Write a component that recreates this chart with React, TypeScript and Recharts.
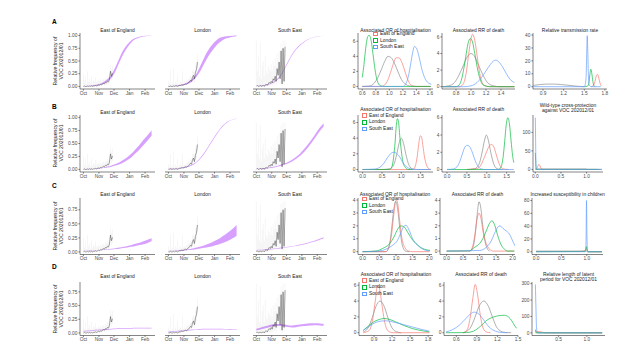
import React from 'react';
import { ComposedChart, Line, Area, XAxis, YAxis } from 'recharts';

// ---------------- data ----------------
const REGIONS = ['East of England', 'London', 'South East'];
const MONTH_TICKS = [0, 31, 61, 92, 123];
const MONTH_LABELS = ['Oct', 'Nov', 'Dec', 'Jan', 'Feb'];
const FIT_DAYS = [0, 8, 16, 24, 32, 40, 48, 56, 64, 72, 80, 88, 96, 104, 112, 120, 128, 136];
const OBS_DAYS = [0, 2, 4, 6, 8, 10, 12, 14, 16, 18, 20, 22, 24, 26, 28, 30, 32, 34, 36, 38, 40, 42, 44, 46, 48, 50, 52, 54, 56, 58];

const OBS_EOE = [0, 0.01, 0, 0, 0.01, 0, 0.01, 0, 0.01, 0, 0.01, 0.01, 0.02, 0.01, 0.02, 0.03, 0.02, 0.04, 0.03, 0.05, 0.06, 0.05, 0.08, 0.07, 0.1, 0.09, 0.14, 0.3, 0.2, 0.26];
const CI_LO_EOE = [0, 0, 0, 0, 0, 0, 0, 0, 0, 0, 0, 0, 0, 0, 0, 0.01, 0.01, 0.02, 0.01, 0.02, 0.03, 0.02, 0.04, 0.03, 0.05, 0.04, 0.07, 0.2, 0.12, 0.16];
const CI_HI_EOE = [0.25, 0.08, 0.2, 0.05, 0.3, 0.1, 0.15, 0.06, 0.2, 0.08, 0.12, 0.1, 0.18, 0.09, 0.1, 0.12, 0.1, 0.14, 0.1, 0.13, 0.15, 0.12, 0.17, 0.15, 0.2, 0.18, 0.26, 0.42, 0.34, 0.4];
const OBS_LON = [0, 0, 0.01, 0, 0, 0.01, 0, 0.01, 0.01, 0, 0.01, 0.02, 0.02, 0.03, 0.03, 0.03, 0.04, 0.05, 0.04, 0.06, 0.07, 0.09, 0.12, 0.1, 0.18, 0.22, 0.15, 0.28, 0.33, 0.48];
const CI_LO_LON = [0, 0, 0, 0, 0, 0, 0, 0, 0, 0, 0, 0, 0.01, 0.01, 0.01, 0.01, 0.02, 0.03, 0.02, 0.03, 0.04, 0.05, 0.07, 0.06, 0.1, 0.14, 0.08, 0.18, 0.22, 0.36];
const CI_HI_LON = [0.1, 0.05, 0.3, 0.04, 0.08, 0.35, 0.05, 0.1, 0.06, 0.2, 0.05, 0.08, 0.1, 0.07, 0.3, 0.08, 0.1, 0.09, 0.12, 0.13, 0.15, 0.16, 0.2, 0.18, 0.3, 0.32, 0.28, 0.42, 0.48, 0.62];
const OBS_SE = [0, 0.02, 0, 0, 0.02, 0, 0.01, 0.02, 0, 0.03, 0.04, 0.02, 0.05, 0.08, 0.06, 0.1, 0.07, 0.15, 0.12, 0.2, 0.1, 0.35, 0.22, 0.48, 0.15, 0.7, 0.05, 0.75, 0.1, 0.78];
const CI_LO_SE = [0, 0, 0, 0, 0, 0, 0, 0, 0, 0, 0, 0, 0, 0.01, 0, 0.02, 0.01, 0.04, 0.03, 0.06, 0.02, 0.15, 0.08, 0.25, 0.04, 0.45, 0, 0.5, 0.02, 0.55];
const CI_HI_SE = [0.9, 0.3, 0.6, 0.2, 0.85, 0.15, 0.4, 0.5, 0.2, 0.6, 0.3, 0.25, 0.4, 0.35, 0.3, 0.45, 0.3, 0.5, 0.4, 0.55, 0.4, 0.65, 0.5, 0.7, 0.45, 0.85, 0.3, 0.9, 0.4, 0.9];

// fitted ribbons (lower / upper) on FIT_DAYS
const A_EOE_LO = [0.003, 0.005, 0.009, 0.016, 0.03, 0.055, 0.1, 0.17, 0.3, 0.48, 0.64, 0.77, 0.87, 0.93, 0.962, 0.98, 0.99, 0.995];
const A_EOE_HI = [0.007, 0.011, 0.018, 0.03, 0.05, 0.085, 0.14, 0.23, 0.38, 0.56, 0.72, 0.83, 0.91, 0.95, 0.976, 0.99, 0.996, 0.999];
const A_LON_LO = [0.003, 0.005, 0.009, 0.015, 0.03, 0.058, 0.105, 0.19, 0.31, 0.46, 0.6, 0.71, 0.81, 0.88, 0.93, 0.958, 0.975, 0.985];
const A_LON_HI = [0.007, 0.011, 0.017, 0.029, 0.05, 0.09, 0.15, 0.25, 0.41, 0.58, 0.72, 0.83, 0.91, 0.96, 0.98, 0.99, 0.997, 0.999];
const A_SE_LO = [0.007, 0.011, 0.019, 0.033, 0.061, 0.109, 0.188, 0.316, 0.466, 0.607, 0.72, 0.802, 0.864, 0.915, 0.951, 0.972, 0.985, 0.991];
const A_SE_HI = [0.013, 0.019, 0.031, 0.047, 0.079, 0.131, 0.212, 0.344, 0.494, 0.633, 0.74, 0.818, 0.876, 0.925, 0.959, 0.978, 0.989, 0.995];

const B_EOE_LO = [0.003, 0.005, 0.007, 0.011, 0.017, 0.025, 0.036, 0.053, 0.075, 0.1, 0.135, 0.18, 0.235, 0.31, 0.385, 0.47, 0.56, 0.65];
const B_EOE_HI = [0.007, 0.009, 0.013, 0.019, 0.027, 0.039, 0.054, 0.077, 0.105, 0.14, 0.185, 0.24, 0.305, 0.39, 0.475, 0.57, 0.66, 0.75];
const B_LON_LO = [0.007, 0.01, 0.014, 0.022, 0.034, 0.053, 0.082, 0.131, 0.21, 0.309, 0.428, 0.548, 0.669, 0.781, 0.863, 0.925, 0.956, 0.977];
const B_LON_HI = [0.013, 0.016, 0.022, 0.032, 0.046, 0.067, 0.098, 0.149, 0.23, 0.331, 0.452, 0.572, 0.691, 0.799, 0.877, 0.935, 0.964, 0.983];
const B_SE_LO = [0.007, 0.01, 0.015, 0.022, 0.033, 0.047, 0.065, 0.088, 0.116, 0.153, 0.2, 0.257, 0.333, 0.42, 0.518, 0.627, 0.737, 0.828];
const B_SE_HI = [0.013, 0.018, 0.025, 0.034, 0.047, 0.063, 0.085, 0.112, 0.144, 0.187, 0.24, 0.303, 0.387, 0.48, 0.582, 0.693, 0.803, 0.892];

const C_EOE_LO = [0.018, 0.02, 0.022, 0.025, 0.028, 0.032, 0.037, 0.043, 0.05, 0.058, 0.068, 0.079, 0.092, 0.106, 0.121, 0.138, 0.16, 0.188];
const C_EOE_HI = [0.022, 0.024, 0.028, 0.031, 0.036, 0.042, 0.049, 0.057, 0.066, 0.078, 0.092, 0.107, 0.124, 0.144, 0.165, 0.188, 0.215, 0.245];
const C_LON_LO = [0.013, 0.015, 0.018, 0.022, 0.027, 0.033, 0.04, 0.049, 0.06, 0.072, 0.086, 0.103, 0.123, 0.146, 0.173, 0.204, 0.242, 0.29];
const C_LON_HI = [0.017, 0.021, 0.026, 0.032, 0.039, 0.049, 0.062, 0.077, 0.096, 0.118, 0.144, 0.175, 0.211, 0.253, 0.3, 0.354, 0.414, 0.48];
const C_SE_LO = [0.025, 0.029, 0.034, 0.04, 0.047, 0.055, 0.063, 0.072, 0.082, 0.093, 0.104, 0.118, 0.134, 0.151, 0.171, 0.192, 0.217, 0.244];
const C_SE_HI = [0.035, 0.039, 0.044, 0.05, 0.057, 0.065, 0.073, 0.082, 0.092, 0.103, 0.116, 0.13, 0.146, 0.165, 0.185, 0.208, 0.233, 0.26];

const D_EOE_LO = [0.028, 0.033, 0.038, 0.043, 0.048, 0.053, 0.058, 0.063, 0.067, 0.071, 0.074, 0.077, 0.079, 0.081, 0.082, 0.083, 0.083, 0.083];
const D_EOE_HI = [0.042, 0.047, 0.052, 0.057, 0.062, 0.067, 0.072, 0.077, 0.081, 0.085, 0.088, 0.091, 0.093, 0.095, 0.096, 0.097, 0.097, 0.097];
const D_LON_LO = [0.015, 0.02, 0.025, 0.031, 0.039, 0.046, 0.052, 0.057, 0.061, 0.063, 0.064, 0.064, 0.064, 0.063, 0.062, 0.06, 0.058, 0.056];
const D_LON_HI = [0.025, 0.03, 0.035, 0.043, 0.051, 0.058, 0.064, 0.069, 0.073, 0.075, 0.076, 0.076, 0.076, 0.075, 0.074, 0.072, 0.07, 0.068];
const D_SE_LO = [0.045, 0.064, 0.083, 0.102, 0.117, 0.127, 0.127, 0.117, 0.107, 0.102, 0.106, 0.116, 0.126, 0.133, 0.138, 0.139, 0.136, 0.131];
const D_SE_HI = [0.075, 0.096, 0.117, 0.138, 0.153, 0.163, 0.163, 0.153, 0.143, 0.138, 0.144, 0.154, 0.164, 0.171, 0.176, 0.177, 0.174, 0.169];

type Pt = [number, number];
// posterior densities: [value, density]
const A_OR_GREY: Pt[] = [[0.6, 0], [0.7, 0.05], [0.76, 0.3], [0.82, 1.0], [0.88, 2.2], [0.93, 3.3], [0.98, 4.0], [1.03, 3.8], [1.08, 3.0], [1.13, 1.9], [1.18, 0.9], [1.24, 0.3], [1.3, 0.05], [1.4, 0], [1.61, 0]];
const A_OR_RED: Pt[] = [[0.6, 0], [0.88, 0], [0.93, 0.2], [0.98, 0.9], [1.03, 2.2], [1.07, 3.3], [1.1, 3.8], [1.14, 3.8], [1.18, 3.3], [1.22, 2.3], [1.26, 1.2], [1.3, 0.4], [1.34, 0.1], [1.4, 0], [1.61, 0]];
const A_OR_GREEN: Pt[] = [[0.6, 1.2], [0.62, 2.5], [0.64, 4.2], [0.66, 5.7], [0.68, 6.6], [0.7, 6.8], [0.72, 6.5], [0.74, 5.6], [0.76, 4.2], [0.78, 2.8], [0.8, 1.6], [0.82, 0.8], [0.84, 0.35], [0.87, 0.1], [0.92, 0], [1.61, 0]];
const A_OR_BLUE: Pt[] = [[0.6, 0], [1.2, 0], [1.24, 0.3], [1.28, 1.3], [1.31, 2.7], [1.34, 4.3], [1.37, 5.3], [1.4, 5.1], [1.44, 3.9], [1.48, 2.3], [1.52, 1.2], [1.56, 0.6], [1.6, 0.35], [1.62, 0.3]];

const A_RR_GREY: Pt[] = [[0.62, 0], [0.7, 0.1], [0.78, 0.5], [0.84, 1.4], [0.9, 2.6], [0.95, 3.6], [1.0, 4.0], [1.05, 3.6], [1.1, 2.6], [1.16, 1.4], [1.22, 0.5], [1.3, 0.1], [1.38, 0], [1.58, 0]];
const A_RR_RED: Pt[] = [[0.62, 0], [0.85, 0], [0.9, 0.4], [0.94, 1.9], [0.97, 4.0], [1.0, 5.8], [1.02, 6.3], [1.05, 5.6], [1.08, 3.8], [1.11, 1.9], [1.14, 0.7], [1.18, 0.15], [1.25, 0], [1.58, 0]];
const A_RR_GREEN: Pt[] = [[0.62, 0], [0.8, 0], [0.85, 0.3], [0.89, 1.5], [0.93, 3.6], [0.96, 5.2], [0.99, 5.8], [1.02, 5.4], [1.05, 4.0], [1.09, 2.0], [1.13, 0.7], [1.17, 0.15], [1.25, 0], [1.58, 0]];
const A_RR_BLUE: Pt[] = [[0.62, 0], [0.9, 0], [1.0, 0.1], [1.08, 0.5], [1.14, 1.1], [1.2, 1.9], [1.26, 2.7], [1.3, 3.1], [1.33, 3.2], [1.37, 3.0], [1.42, 2.4], [1.47, 1.6], [1.52, 0.9], [1.58, 0.5]];

const A_TR_GREY: Pt[] = [[0.76, 1.0], [0.85, 1.6], [0.95, 2.0], [1.05, 2.0], [1.15, 1.7], [1.25, 1.2], [1.35, 0.6], [1.45, 0.15], [1.5, 0]];
const A_TR_RED: Pt[] = [[1.6, 0], [1.63, 0.8], [1.655, 4], [1.675, 8.5], [1.69, 9.5], [1.705, 8], [1.72, 4.5], [1.735, 1.8], [1.75, 0.6]];
const A_TR_GREEN: Pt[] = [[1.5, 0], [1.55, 0.5], [1.57, 4], [1.585, 11], [1.595, 13.5], [1.61, 10], [1.625, 4], [1.64, 0.8], [1.66, 0]];
const A_TR_BLUE: Pt[] = [[0.76, 0], [1.5, 0], [1.525, 6], [1.535, 25], [1.543, 39.5], [1.552, 25], [1.562, 6], [1.575, 1], [1.6, 0], [1.74, 0]];

const B_OR_GREY: Pt[] = [[0, 0], [0.5, 0], [0.7, 0.1], [0.8, 0.55], [0.88, 1.9], [0.94, 3.3], [1.0, 4.0], [1.06, 3.3], [1.12, 1.9], [1.2, 0.55], [1.3, 0.05], [1.4, 0], [1.76, 0]];
const B_OR_RED: Pt[] = [[0, 0], [1.3, 0], [1.36, 0.4], [1.41, 1.6], [1.45, 3.2], [1.49, 4.3], [1.52, 4.2], [1.56, 3.0], [1.6, 1.6], [1.65, 0.6], [1.7, 0.15], [1.76, 0]];
const B_OR_GREEN: Pt[] = [[0, 0], [0.7, 0], [0.76, 0.4], [0.8, 1.5], [0.84, 3.5], [0.87, 5.6], [0.9, 6.5], [0.93, 6.0], [0.96, 4.3], [1.0, 2.4], [1.04, 1.0], [1.1, 0.3], [1.18, 0], [1.3, 0]];
const B_OR_BLUE: Pt[] = [[0, 0], [0.3, 0.05], [0.45, 0.3], [0.55, 0.8], [0.64, 1.5], [0.72, 2.0], [0.8, 2.2], [0.88, 2.05], [0.96, 1.6], [1.04, 0.9], [1.12, 0.4], [1.2, 0.15], [1.3, 0.03], [1.4, 0], [1.76, 0]];

const B_RR_GREY: Pt[] = [[0.5, 0], [0.7, 0.1], [0.8, 0.55], [0.88, 1.9], [0.94, 3.3], [0.99, 4.0], [1.04, 3.4], [1.1, 2.0], [1.18, 0.6], [1.28, 0.05], [1.4, 0]];
const B_RR_RED: Pt[] = [[0.5, 0], [0.75, 0.1], [0.85, 0.5], [0.93, 1.3], [1.0, 2.1], [1.06, 2.7], [1.12, 2.9], [1.18, 2.6], [1.24, 1.7], [1.3, 0.8], [1.36, 0.25], [1.44, 0.05], [1.55, 0]];
const B_RR_GREEN: Pt[] = [[0, 0], [1.3, 0], [1.36, 0.3], [1.41, 1.4], [1.45, 3.2], [1.49, 5.2], [1.53, 6.0], [1.57, 5.3], [1.61, 3.4], [1.65, 1.6], [1.68, 0.8]];
const B_RR_BLUE: Pt[] = [[0, 0], [0.15, 0.05], [0.25, 0.3], [0.32, 0.9], [0.38, 1.7], [0.44, 2.5], [0.5, 2.8], [0.56, 2.7], [0.62, 2.2], [0.68, 1.4], [0.74, 0.7], [0.8, 0.25], [0.88, 0.05], [0.95, 0], [1.68, 0]];

const B_WT_GREY: Pt[] = [[0, 1], [0.995, 1], [1.005, 0], [1.3, 0]];
const B_WT_RED: Pt[] = [[0, 0], [0.03, 2], [0.05, 9], [0.07, 14], [0.09, 10], [0.11, 3], [0.13, 0.5], [0.16, 0], [1.2, 0]];
const B_WT_GREEN: Pt[] = [[0, 45], [0.006, 25], [0.012, 5], [0.02, 0], [1.25, 0]];
const B_WT_BLUE: Pt[] = [[0, 140], [0.006, 80], [0.012, 20], [0.02, 3], [0.03, 0], [1.3, 0]];

const C_OR_GREY: Pt[] = [[0, 0], [0.7, 0], [0.8, 0.5], [0.87, 1.8], [0.93, 3.2], [0.99, 3.9], [1.05, 3.3], [1.11, 1.9], [1.19, 0.5], [1.28, 0.05], [1.4, 0]];
const C_OR_RED: Pt[] = [[0, 0], [0.7, 0], [0.78, 0.3], [0.86, 1.2], [0.93, 2.8], [0.98, 3.8], [1.02, 4.0], [1.06, 3.6], [1.11, 2.4], [1.18, 1.0], [1.27, 0.3], [1.37, 0.05], [1.5, 0], [2.0, 0]];
const C_OR_GREEN: Pt[] = [[0, 0], [0.4, 0.05], [0.6, 0.25], [0.8, 0.6], [0.95, 1.2], [1.05, 1.75], [1.15, 2.0], [1.25, 1.9], [1.35, 1.5], [1.5, 0.9], [1.7, 0.4], [1.9, 0.15], [2.02, 0.1]];
const C_OR_BLUE: Pt[] = [[0, 0], [0.5, 0.05], [0.7, 0.2], [0.9, 0.5], [1.05, 0.9], [1.15, 1.5], [1.23, 1.95], [1.3, 2.05], [1.38, 1.75], [1.5, 1.0], [1.65, 0.5], [1.8, 0.2], [2.02, 0.05]];

const C_RR_GREY: Pt[] = [[0.7, 0], [0.8, 0.3], [0.87, 1.4], [0.93, 3.0], [0.98, 3.9], [1.03, 3.5], [1.09, 2.1], [1.16, 0.8], [1.24, 0.15], [1.3, 0]];
const C_RR_RED: Pt[] = [[0, 0], [0.7, 0], [0.78, 0.3], [0.85, 1.2], [0.92, 2.5], [0.98, 3.0], [1.04, 2.6], [1.1, 1.6], [1.2, 0.6], [1.3, 0.15], [1.4, 0], [2.05, 0]];
const C_RR_GREEN: Pt[] = [[0, 0], [0.7, 0.02], [0.85, 0.3], [1.0, 0.6], [1.1, 1.0], [1.2, 1.6], [1.3, 2.2], [1.37, 2.4], [1.45, 2.1], [1.55, 1.2], [1.65, 0.5], [1.75, 0.15], [1.85, 0], [2.05, 0]];
const C_RR_BLUE: Pt[] = [[0, 0], [1.0, 0.05], [1.2, 0.3], [1.35, 0.8], [1.45, 1.4], [1.55, 1.9], [1.62, 2.0], [1.7, 1.8], [1.8, 1.6], [1.9, 1.35], [2.0, 0.8], [2.07, 0.4]];

const C_SC_GREY: Pt[] = [[0, 1], [0.99, 1], [1.01, 0], [1.3, 0]];
const C_SC_RED: Pt[] = [[0, 0.3], [0.9, 0.5], [0.95, 1.5], [0.98, 3.5], [1.0, 4], [1.02, 1], [1.04, 0], [1.3, 0]];
const C_SC_GREEN: Pt[] = [[0, 0], [0.96, 0.5], [0.985, 5], [0.995, 8], [1.005, 3], [1.02, 0], [1.3, 0]];
const C_SC_BLUE: Pt[] = [[0, 0], [0.97, 0], [0.985, 15], [0.995, 80], [1.003, 30], [1.012, 3], [1.025, 0], [1.3, 0]];

const D_OR_GREY: Pt[] = [[0.72, 0.1], [0.8, 0.6], [0.87, 1.9], [0.93, 3.3], [1.0, 4.0], [1.07, 3.3], [1.13, 1.9], [1.2, 0.6], [1.28, 0.1], [1.35, 0]];
const D_OR_RED: Pt[] = [[0.72, 0], [0.82, 0.3], [0.88, 1.8], [0.92, 4.0], [0.96, 6.0], [0.99, 5.6], [1.03, 3.6], [1.07, 1.6], [1.11, 0.5], [1.16, 0.1], [1.22, 0], [1.82, 0]];
const D_OR_GREEN: Pt[] = [[0.72, 0.3], [0.8, 0.8], [0.9, 1.4], [1.0, 1.7], [1.06, 1.8], [1.15, 1.7], [1.25, 1.4], [1.4, 0.9], [1.55, 0.5], [1.7, 0.25], [1.82, 0.1]];
const D_OR_BLUE: Pt[] = [[0.72, 0.3], [0.8, 0.7], [0.9, 1.2], [1.0, 1.45], [1.1, 1.5], [1.25, 1.3], [1.4, 1.0], [1.55, 0.7], [1.7, 0.4], [1.82, 0.2]];

const D_RR_GREY: Pt[] = [[0.7, 0], [0.8, 0.55], [0.87, 1.9], [0.93, 3.3], [1.0, 4.0], [1.07, 3.3], [1.13, 1.9], [1.2, 0.55], [1.3, 0.05], [1.4, 0]];
const D_RR_RED: Pt[] = [[0.7, 0], [0.76, 0.4], [0.8, 1.8], [0.84, 4.3], [0.875, 6.1], [0.91, 4.8], [0.95, 2.2], [0.99, 0.6], [1.04, 0.08], [1.1, 0]];
const D_RR_GREEN: Pt[] = [[0.45, 0], [0.75, 0.02], [0.85, 0.2], [0.95, 0.8], [1.05, 1.6], [1.15, 2.0], [1.22, 2.15], [1.3, 2.2], [1.36, 2.0], [1.41, 1.5], [1.45, 0.9], [1.48, 0.55]];
const D_RR_BLUE: Pt[] = [[0.45, 0.1], [0.55, 0.4], [0.65, 1.0], [0.74, 1.8], [0.81, 2.4], [0.86, 2.6], [0.93, 2.35], [1.0, 1.6], [1.08, 0.7], [1.17, 0.2], [1.27, 0.02], [1.35, 0]];

const D_LP_GREY: Pt[] = [[0.09, 1], [1.27, 1]];
const D_LP_RED: Pt[] = [[0.09, 10], [0.13, 8], [0.18, 7], [0.22, 3], [0.26, 0.5], [0.3, 0], [1.27, 0]];
const D_LP_GREEN: Pt[] = [[0.09, 20], [0.1, 5], [0.115, 0], [1.27, 0]];
const D_LP_BLUE: Pt[] = [[0.09, 295], [0.1, 150], [0.11, 30], [0.125, 3], [0.14, 0], [1.27, 0]];

// ---------------- styling / layout ----------------
const FONT = '"Liberation Sans", Arial, Helvetica, sans-serif';
const RED = '#F8766D';
const GREEN = '#00BA38';
const BLUE = '#619CFF';
const GREY = '#8a8a8a';
const PURPLE = '#C77CFF';
const AXIS = '#333333';
const TICKTXT = '#4d4d4d';
const YW = 20; // y-axis width
const XH = 10; // x-axis height
const PT = 4; // top pad
const PR = 8; // right pad

const LEFT_X: [number, number][] = [[80, 155], [165, 240], [253, 327]];

const toXY = (pts: Pt[]) => pts.map(([x, y]) => ({ x, y }));
const ribbon = (lo: number[], hi: number[]) => FIT_DAYS.map((d, i) => ({ x: d, r: [lo[i], hi[i]] }));
const obsLine = (v: number[]) => OBS_DAYS.map((d, i) => ({ x: d, y: v[i] }));
const ciSegs = (lo: number[], hi: number[]) => {
  const out: { x: number; y: number | null }[] = [];
  OBS_DAYS.forEach((d, i) => {
    out.push({ x: d, y: lo[i] });
    out.push({ x: d, y: hi[i] });
    out.push({ x: d, y: null });
  });
  return out;
};

const OBS = [
  { obs: OBS_EOE, lo: CI_LO_EOE, hi: CI_HI_EOE },
  { obs: OBS_LON, lo: CI_LO_LON, hi: CI_HI_LON },
  { obs: OBS_SE, lo: CI_LO_SE, hi: CI_HI_SE },
];

type Curves = { grey: Pt[]; red: Pt[]; green: Pt[]; blue: Pt[] };
type RightPanel = {
  x0: number; x1: number; xDomain: [number, number]; yDomain: [number, number];
  xTicks: number[]; yTicks: number[]; title: string[]; titleY: number; curves: Curves;
  legend?: { x: number; y: number };
};
type Row = {
  key: string; labelY: number; top: number; bottom: number; leftTitleY: number;
  yDomain: [number, number]; yTicks: number[]; rib: [number[], number[]][]; right: RightPanel[];
};

const ROWS: Row[] = [
  {
    key: 'A', labelY: 21.5, top: 33, bottom: 89, leftTitleY: 30,
    yDomain: [-0.05, 1.05], yTicks: [0, 0.25, 0.5, 0.75, 1],
    rib: [[A_EOE_LO, A_EOE_HI], [A_LON_LO, A_LON_HI], [A_SE_LO, A_SE_HI]],
    right: [
      { x0: 358, x1: 433, xDomain: [0.537, 1.645], yDomain: [-0.34, 7.1], xTicks: [0.6, 0.8, 1.0, 1.2, 1.4, 1.6], yTicks: [0, 2, 4, 6], title: ['Associated OR of hospitalisation'], titleY: 30, curves: { grey: A_OR_GREY, red: A_OR_RED, green: A_OR_GREEN, blue: A_OR_BLUE }, legend: { x: 373, y: 34 } },
      { x0: 442, x1: 515, xDomain: [0.613, 1.587], yDomain: [-0.28, 6.47], xTicks: [0.8, 1.0, 1.2, 1.4], yTicks: [0, 2, 4, 6], title: ['Associated RR of death'], titleY: 30, curves: { grey: A_RR_GREY, red: A_RR_RED, green: A_RR_GREEN, blue: A_RR_BLUE } },
      { x0: 533, x1: 607, xDomain: [0.755, 1.83], yDomain: [-1.8, 41.6], xTicks: [0.9, 1.2, 1.5, 1.8], yTicks: [0, 10, 20, 30, 40], title: ['Relative transmission rate'], titleY: 30, curves: { grey: A_TR_GREY, red: A_TR_RED, green: A_TR_GREEN, blue: A_TR_BLUE } },
    ],
  },
  {
    key: 'B', labelY: 106.5, top: 114.5, bottom: 171.5, leftTitleY: 112,
    yDomain: [-0.05, 1.05], yTicks: [0, 0.25, 0.5, 0.75, 1],
    rib: [[B_EOE_LO, B_EOE_HI], [B_LON_LO, B_LON_HI], [B_SE_LO, B_SE_HI]],
    right: [
      { x0: 358, x1: 433, xDomain: [-0.12, 1.82], yDomain: [-0.32, 6.96], xTicks: [0, 0.5, 1.0, 1.5], yTicks: [0, 2, 4, 6], title: ['Associated OR of hospitalisation'], titleY: 109, curves: { grey: B_OR_GREY, red: B_OR_RED, green: B_OR_GREEN, blue: B_OR_BLUE }, legend: { x: 362, y: 115.7 } },
      { x0: 442, x1: 515, xDomain: [-0.125, 1.71], yDomain: [-0.29, 6.32], xTicks: [0, 0.5, 1.0, 1.5], yTicks: [0, 2, 4, 6], title: ['Associated RR of death'], titleY: 109, curves: { grey: B_RR_GREY, red: B_RR_RED, green: B_RR_GREEN, blue: B_RR_BLUE } },
      { x0: 533, x1: 603, xDomain: [-0.045, 1.32], yDomain: [-7, 147], xTicks: [0, 0.5, 1.0], yTicks: [0, 50, 100], title: ['Wild-type cross-protection', 'against VOC 202012/01'], titleY: 108, curves: { grey: B_WT_GREY, red: B_WT_RED, green: B_WT_GREEN, blue: B_WT_BLUE } },
    ],
  },
  {
    key: 'C', labelY: 186, top: 198, bottom: 254.5, leftTitleY: 194,
    yDomain: [-0.046, 0.96], yTicks: [0, 0.25, 0.5, 0.75],
    rib: [[C_EOE_LO, C_EOE_HI], [C_LON_LO, C_LON_HI], [C_SE_LO, C_SE_HI]],
    right: [
      { x0: 358, x1: 432, xDomain: [-0.14, 2.08], yDomain: [-0.22, 4.16], xTicks: [0, 0.5, 1.0, 1.5, 2.0], yTicks: [0, 1, 2, 3, 4], title: ['Associated OR of hospitalisation'], titleY: 194, curves: { grey: C_OR_GREY, red: C_OR_RED, green: C_OR_GREEN, blue: C_OR_BLUE }, legend: { x: 362, y: 199 } },
      { x0: 440, x1: 515, xDomain: [-0.2, 2.07], yDomain: [-0.27, 4.2], xTicks: [0, 0.5, 1.0, 1.5, 2.0], yTicks: [0, 1, 2, 3, 4], title: ['Associated RR of death'], titleY: 194, curves: { grey: C_RR_GREY, red: C_RR_RED, green: C_RR_GREEN, blue: C_RR_BLUE } },
      { x0: 532, x1: 603, xDomain: [-0.08, 1.32], yDomain: [-4.3, 84], xTicks: [0, 0.5, 1.0], yTicks: [0, 20, 40, 60, 80], title: ['Increased susceptibility in children'], titleY: 194, curves: { grey: C_SC_GREY, red: C_SC_RED, green: C_SC_GREEN, blue: C_SC_BLUE } },
    ],
  },
  {
    key: 'D', labelY: 267, top: 282, bottom: 335.5, leftTitleY: 276,
    yDomain: [-0.046, 0.93], yTicks: [0, 0.25, 0.5, 0.75],
    rib: [[D_EOE_LO, D_EOE_HI], [D_LON_LO, D_LON_HI], [D_SE_LO, D_SE_HI]],
    right: [
      { x0: 359, x1: 433, xDomain: [0.65, 1.88], yDomain: [-0.35, 6.4], xTicks: [0.9, 1.2, 1.5, 1.8], yTicks: [0, 2, 4, 6], title: ['Associated OR of hospitalisation'], titleY: 274, curves: { grey: D_OR_GREY, red: D_OR_RED, green: D_OR_GREEN, blue: D_OR_BLUE }, legend: { x: 362, y: 280.7 } },
      { x0: 444, x1: 518, xDomain: [0.42, 1.5], yDomain: [-0.35, 6.4], xTicks: [0.6, 0.9, 1.2, 1.5], yTicks: [0, 2, 4, 6], title: ['Associated RR of death'], titleY: 274, curves: { grey: D_RR_GREY, red: D_RR_RED, green: D_RR_GREEN, blue: D_RR_BLUE } },
      { x0: 532, x1: 605, xDomain: [0.03, 1.32], yDomain: [-16, 310], xTicks: [0.5, 1.0], yTicks: [0, 100, 200, 300], title: ['Relative length of latent', 'period for VOC 202012/01'], titleY: 277, curves: { grey: D_LP_GREY, red: D_LP_RED, green: D_LP_GREEN, blue: D_LP_BLUE } },
    ],
  },
];

// ---------------- components ----------------
type FrameProps = {
  x0: number; x1: number; y0: number; y1: number;
  xDomain: [number, number]; yDomain: [number, number];
  xTicks: number[]; yTicks: number[];
  xFmt: (v: number) => string; yFmt: (v: number) => string;
  showY: boolean; children: React.ReactNode;
};

function Frame(p: FrameProps) {
  const w = p.x1 - p.x0 + YW + PR;
  const h = p.y1 - p.y0 + XH + PT;
  const axisLine = { stroke: AXIS, strokeWidth: 0.6 };
  return (
    <div style={{ position: 'absolute', left: p.x0 - YW, top: p.y0 - PT, width: w, height: h }}>
      <ComposedChart width={w} height={h} margin={{ top: PT, right: PR, bottom: 0, left: 0 }}>
        <XAxis
          type="number" dataKey="x" domain={p.xDomain} ticks={p.xTicks} tickFormatter={p.xFmt}
          allowDataOverflow interval={0} height={XH} tickSize={1.6} tickMargin={0.6}
          tick={{ fontSize: 4.8, fill: TICKTXT }} axisLine={axisLine} tickLine={axisLine}
        />
        <YAxis
          type="number" domain={p.yDomain} ticks={p.yTicks} tickFormatter={p.yFmt}
          allowDataOverflow interval={0} width={YW} tickSize={p.showY ? 1.6 : 0} tickMargin={1}
          tick={p.showY ? { fontSize: 4.8, fill: TICKTXT } : false}
          axisLine={p.showY ? axisLine : false} tickLine={p.showY ? axisLine : false}
        />
        {p.children}
      </ComposedChart>
    </div>
  );
}

function Title({ x0, x1, y, lines }: { x0: number; x1: number; y: number; lines: string[] }) {
  const lh = 5;
  return (
    <div style={{
      position: 'absolute', left: x0 - 20, width: x1 - x0 + 40, top: y - (lines.length * lh) / 2,
      textAlign: 'center', fontSize: 4.9, lineHeight: `${lh}px`, color: '#1a1a1a', whiteSpace: 'nowrap',
    }}>
      {lines.map((l) => <div key={l}>{l}</div>)}
    </div>
  );
}

function Legend({ x, y }: { x: number; y: number }) {
  const cols = [RED, GREEN, BLUE];
  return (
    <>
      {REGIONS.map((r, i) => (
        <div key={r} style={{ position: 'absolute', left: x, top: y + i * 6.6 - 3, height: 6, display: 'flex', alignItems: 'center' }}>
          <div style={{ width: 4.6, height: 4.6, border: `0.7px solid ${cols[i]}`, boxSizing: 'border-box', marginRight: 2.4, background: 'rgba(255,255,255,0.6)' }} />
          <span style={{ fontSize: 4.9, lineHeight: '6px', color: '#1a1a1a', whiteSpace: 'nowrap' }}>{r}</span>
        </div>
      ))}
    </>
  );
}

const monthFmt = (v: number) => MONTH_LABELS[MONTH_TICKS.indexOf(v)] ?? '';
const fmt2 = (v: number) => v.toFixed(2);
const fmt1 = (v: number) => v.toFixed(1);
const fmtInt = (v: number) => String(v);

function densityLines(c: Curves) {
  const list: [Pt[], string, string][] = [[c.grey, GREY, 'g'], [c.red, RED, 'r'], [c.green, GREEN, 'n'], [c.blue, BLUE, 'b']];
  return list.map(([pts, col, k]) => (
    <Line key={k} data={toXY(pts)} dataKey="y" type="monotone" stroke={col} strokeWidth={0.8}
      strokeOpacity={0.85} dot={false} activeDot={false} isAnimationActive={false} />
  ));
}

export default function App() {
  return (
    <div style={{ position: 'absolute', left: 0, top: 0, width: 640, height: 351, background: '#fff', fontFamily: FONT, overflow: 'hidden' }}>
      {ROWS.map((row) => (
        <React.Fragment key={row.key}>
          <div style={{ position: 'absolute', left: 52, top: row.labelY - 4, fontSize: 6.5, fontWeight: 'bold', lineHeight: '8px' }}>{row.key}</div>
          <div style={{
            position: 'absolute', left: 58 - 40, top: (row.top + row.bottom) / 2 - 6, width: 80, height: 12,
            transform: 'rotate(-90deg)', textAlign: 'center', fontSize: 5.2, lineHeight: '6px', color: '#1a1a1a', whiteSpace: 'nowrap',
          }}>
            <div>Relative frequency of</div>
            <div>VOC 202012/01</div>
          </div>
          {LEFT_X.map(([x0, x1], ri) => (
            <React.Fragment key={ri}>
              <Title x0={x0} x1={x1} y={row.leftTitleY} lines={[REGIONS[ri]]} />
              <Frame x0={x0} x1={x1} y0={row.top} y1={row.bottom} xDomain={[-6.8, 142.8]} yDomain={row.yDomain}
                xTicks={MONTH_TICKS} yTicks={row.yTicks} xFmt={monthFmt} yFmt={fmt2} showY={ri === 0}>
                <Area data={ribbon(row.rib[ri][0], row.rib[ri][1])} dataKey="r" type="monotone" stroke="none"
                  fill={PURPLE} fillOpacity={0.72} isAnimationActive={false} activeDot={false} dot={false} />
                <Line data={ciSegs(OBS[ri].lo, OBS[ri].hi)} dataKey="y" type="linear" stroke="#000" strokeOpacity={0.07}
                  strokeWidth={0.6} dot={false} activeDot={false} isAnimationActive={false} connectNulls={false} />
                <Line data={obsLine(OBS[ri].obs)} dataKey="y" type="linear" stroke="#333" strokeWidth={0.45}
                  dot={false} activeDot={false} isAnimationActive={false} />
              </Frame>
            </React.Fragment>
          ))}
          {row.right.map((p, pi) => (
            <React.Fragment key={pi}>
              <Title x0={p.x0} x1={p.x1} y={p.titleY} lines={p.title} />
              <Frame x0={p.x0} x1={p.x1} y0={row.top} y1={row.bottom} xDomain={p.xDomain} yDomain={p.yDomain}
                xTicks={p.xTicks} yTicks={p.yTicks} xFmt={fmt1} yFmt={fmtInt} showY>
                {densityLines(p.curves)}
              </Frame>
              {p.legend && <Legend x={p.legend.x} y={p.legend.y} />}
            </React.Fragment>
          ))}
        </React.Fragment>
      ))}
    </div>
  );
}
